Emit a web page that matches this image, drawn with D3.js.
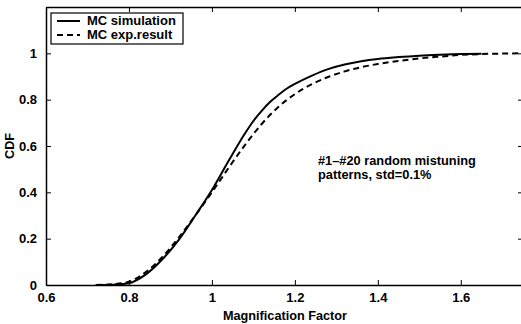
<!DOCTYPE html>
<html>
<head>
<meta charset="utf-8">
<script src="https://cdn.jsdelivr.net/npm/d3@7"></script>
<style>
  body { margin: 0; background: #fff; }
  svg { display: block; }
  text { font-family: "Liberation Sans", Arial, Helvetica, sans-serif; font-weight: bold; fill: #000; }
</style>
</head>
<body>
<div id="chartDiv"></div>
<script>
'use strict';

// MC simulation (solid)
const simX = [0.72, 0.76, 0.80, 0.84, 0.88, 0.92, 0.96, 1.00, 1.04, 1.08, 1.10, 1.12, 1.14, 1.16, 1.18, 1.20,
              1.24, 1.28, 1.32, 1.36, 1.40, 1.45, 1.50, 1.55, 1.60, 1.65];
const simY = [0.000, 0.001, 0.008, 0.045, 0.11, 0.195, 0.30, 0.41, 0.535, 0.655, 0.708, 0.752, 0.79, 0.82, 0.847, 0.868,
              0.903, 0.932, 0.952, 0.966, 0.976, 0.984, 0.990, 0.994, 0.997, 0.998];

// MC exp.result (dashed)
const expX = [0.72, 0.76, 0.80, 0.84, 0.88, 0.92, 0.96, 1.00, 1.04, 1.08, 1.12, 1.16, 1.20,
              1.24, 1.28, 1.32, 1.36, 1.40, 1.45, 1.50, 1.55, 1.60, 1.65, 1.70, 1.75];
const expY = [0.000, 0.003, 0.014, 0.055, 0.12, 0.205, 0.30, 0.40, 0.505, 0.605, 0.695, 0.768, 0.824,
              0.866, 0.898, 0.922, 0.94, 0.954, 0.967, 0.978, 0.986, 0.993, 0.997, 0.999, 1.0];

const xTicks = [0.6, 0.8, 1.0, 1.2, 1.4, 1.6];
const yTicks = [0, 0.2, 0.4, 0.6, 0.8, 1.0];
const legendLabels = ['MC simulation', 'MC exp.result'];
const noteLines = ['#1\u2013#20 random mistuning', 'patterns, std=0.1%'];

const W = 521, H = 324;
const margin = { top: 7, right: -2, bottom: 39, left: 46 };
const width = W - margin.left - margin.right;
const height = H - margin.top - margin.bottom;

const xScale = d3.scaleLinear().domain([0.6, 1.75]).range([0, width]);
const yScale = d3.scaleLinear().domain([0, 1.2]).range([height, 0]);

const svg = d3.select('#chartDiv').append('svg')
    .attr('width', W)
    .attr('height', H);

const g = svg.append('g')
    .attr('transform', 'translate(' + margin.left + ',' + margin.top + ')');

// axes, ticks inward like matlab
const tickLen = 5;
const xAxisB = g.append('g')
    .attr('transform', 'translate(0,' + height + ')')
    .call(d3.axisBottom(xScale).tickValues(xTicks).tickSizeInner(-tickLen).tickSizeOuter(0)
        .tickPadding(tickLen + 3).tickFormat(d3.format('~g')));
const xAxisT = g.append('g')
    .call(d3.axisTop(xScale).tickValues(xTicks).tickSizeInner(-tickLen).tickSizeOuter(0).tickFormat(''));
const yAxisL = g.append('g')
    .call(d3.axisLeft(yScale).tickValues(yTicks).tickSizeInner(-tickLen).tickSizeOuter(0)
        .tickPadding(tickLen + 4).tickFormat(d3.format('~g')));
const yAxisR = g.append('g')
    .attr('transform', 'translate(' + xScale(1.75) + ',0)')
    .call(d3.axisRight(yScale).tickValues(yTicks).tickSizeInner(-tickLen).tickSizeOuter(0).tickFormat(''));

[xAxisB, xAxisT, yAxisL, yAxisR].forEach(a => {
    a.select('.domain').attr('stroke', '#000').attr('stroke-width', 1.5);
    a.selectAll('.tick line').attr('stroke', '#000').attr('stroke-width', 1);
    a.selectAll('.tick text')
        .style('font-family', '"Liberation Sans", Arial, sans-serif')
        .style('font-weight', 'bold')
        .style('font-size', '13px')
        .attr('fill', '#000');
});

// curves
const line = d3.line()
    .x(d => xScale(d[0]))
    .y(d => yScale(d[1]))
    .curve(d3.curveMonotoneX);

const simData = simX.map((x, i) => [x, simY[i]]);
const expData = expX.map((x, i) => [x, expY[i]]);

g.append('path')
    .datum(expData)
    .attr('d', line)
    .attr('fill', 'none')
    .attr('stroke', '#000')
    .attr('stroke-width', 2)
    .attr('stroke-dasharray', '6,4');

g.append('path')
    .datum(simData)
    .attr('d', line)
    .attr('fill', 'none')
    .attr('stroke', '#000')
    .attr('stroke-width', 2);

// axis titles
svg.append('text')
    .attr('x', 285)
    .attr('y', 320)
    .attr('text-anchor', 'middle')
    .style('font-size', '12.7px')
    .text('Magnification Factor');

svg.append('text')
    .attr('transform', 'translate(14,' + (margin.top + height / 2) + ') rotate(-90)')
    .attr('text-anchor', 'middle')
    .style('font-size', '12.7px')
    .text('CDF');

// annotation
const note = svg.append('text')
    .attr('x', 318)
    .attr('y', 165)
    .style('font-size', '12.8px');
noteLines.forEach((t, i) => {
    note.append('tspan').attr('x', 318).attr('dy', i === 0 ? 0 : 14).text(t);
});

// legend
const legend = svg.append('g').attr('transform', 'translate(51,13)');
legend.append('rect')
    .attr('width', 132).attr('height', 31)
    .attr('fill', '#fff').attr('stroke', '#000').attr('stroke-width', 1.2);
legendLabels.forEach((lbl, i) => {
    const yy = 8 + i * 14;
    legend.append('line')
        .attr('x1', 6).attr('x2', 29).attr('y1', yy).attr('y2', yy)
        .attr('stroke', '#000').attr('stroke-width', 2)
        .attr('stroke-dasharray', i === 0 ? null : '6,4');
    legend.append('text')
        .attr('x', 36).attr('y', yy + 4)
        .style('font-size', '13px')
        .text(lbl);
});
</script>
</body>
</html>
